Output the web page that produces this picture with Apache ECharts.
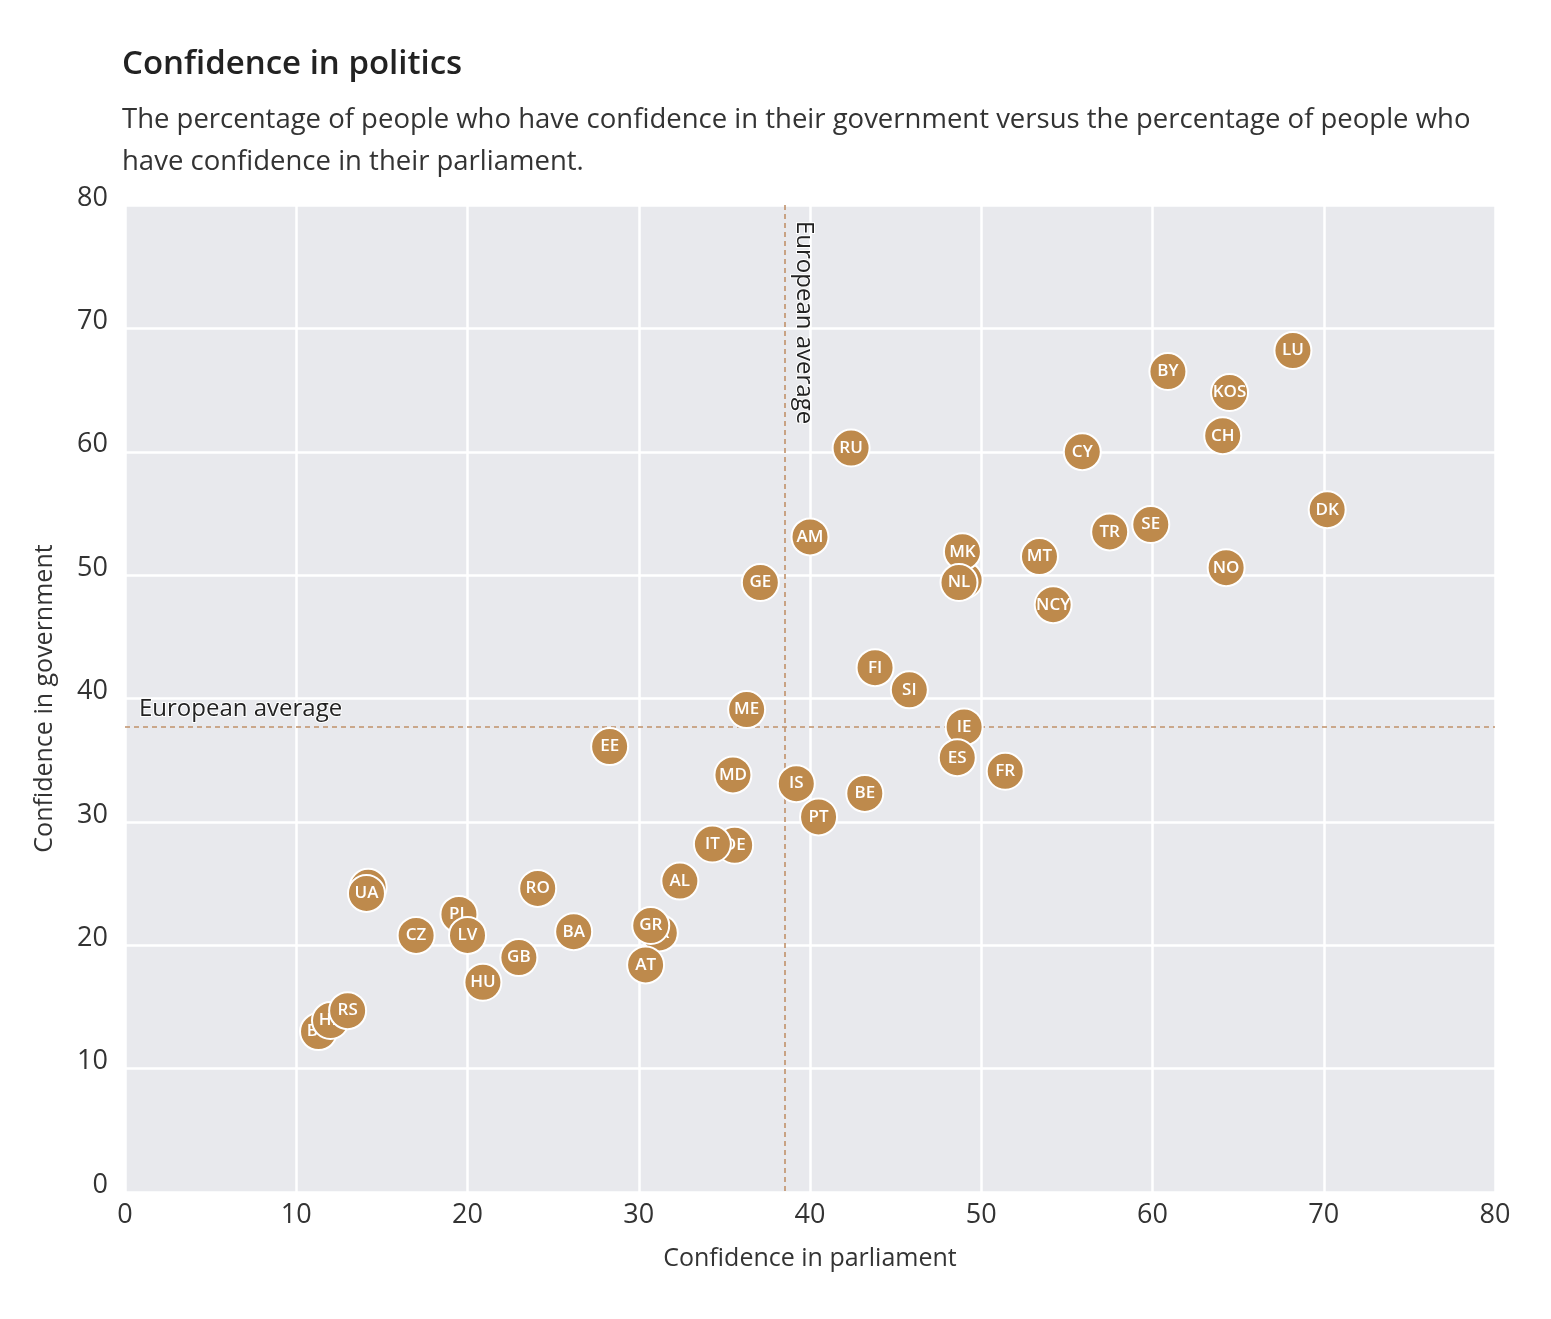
<!DOCTYPE html>
<html>
<head>
<meta charset="utf-8">
<script src="https://cdn.jsdelivr.net/npm/echarts@6/dist/echarts.min.js"></script>
<style>
html,body{margin:0;padding:0;background:#fff;}
#chart{width:1551px;height:1319px;}
</style>
</head>
<body>
<div id="chart"></div>
<script>
// Country codes, confidence in parliament (x) and confidence in government (y)
const countries  = ['LU','BY','KOS','CH','CY','RU','DK','SE','TR','MT','NO','MK','NL','NCY','AM','GE','FI','SI','ME','IE','ES','FR','EE','MD','IS','BE','PT','IT','AL','UA','RO','LV','CZ','BA','GR','GB','HU','AT','RS'];
const parliament = [68.2, 60.9, 64.5, 64.1, 55.9, 42.4, 70.2, 59.9, 57.5, 53.4, 64.3, 48.9, 48.7, 54.2, 40.0, 37.1, 43.8, 45.8, 36.3, 49.0, 48.6, 51.4, 28.3, 35.5, 39.2, 43.2, 40.5, 34.3, 32.4, 14.1, 24.1, 20.0, 17.0, 26.2, 30.7, 23.0, 20.9, 30.4, 13.0];
const government = [68.2, 66.5, 64.8, 61.3, 60.0, 60.3, 55.3, 54.1, 53.5, 51.5, 50.6, 51.9, 49.4, 47.6, 53.1, 49.4, 42.5, 40.7, 39.1, 37.7, 35.2, 34.1, 36.1, 33.8, 33.1, 32.3, 30.4, 28.2, 25.2, 24.2, 24.6, 20.8, 20.8, 21.1, 21.6, 19.0, 17.0, 18.4, 14.7];

// Points partly hidden behind others (drawn underneath)
const hiddenCountries  = ['BG','LT','PL','SK','DE','AZ'];
const hiddenParliament = [11.3, 14.2, 19.5, 31.2, 35.6, 49.0];
const hiddenGovernment = [13.0, 24.7, 22.5, 21.0, 28.1, 49.6];

// Point in between (partly hidden, partly covering)
const middleCountries  = ['HR'];
const middleParliament = [12.0];
const middleGovernment = [13.9];

// European averages
const avgParliament = 38.5;
const avgGovernment = 37.7;

// Axis ticks
const axisMin = 0, axisMax = 80, axisStep = 10;

function build(codes, xs, ys) {
  return codes.map((c, i) => [xs[i], ys[i], c]);
}

const FONT = 'Open Sans';
const dotStyle = {
  symbol: 'circle',
  symbolSize: 37,
  itemStyle: { color: '#be8a4c', borderColor: '#ffffff', borderWidth: 2, opacity: 1 },
  label: {
    show: true, position: 'inside',
    formatter: p => p.value[2],
    color: '#ffffff', fontFamily: FONT, fontSize: 17, fontWeight: 600
  },
  emphasis: { disabled: true }
};

const chart = echarts.init(document.getElementById('chart'));
chart.setOption({
  animation: false,
  backgroundColor: '#ffffff',
  title: {
    text: 'Confidence in politics',
    subtext: 'The percentage of people who have confidence in their government versus the percentage of people who\nhave confidence in their parliament.',
    left: 117, top: 40, itemGap: 14,
    textStyle: { fontFamily: FONT, fontSize: 33, fontWeight: 600, color: '#222', lineHeight: 40 },
    subtextStyle: { fontFamily: FONT, fontSize: 27.5, color: '#333', lineHeight: 42 }
  },
  grid: {
    left: 125, right: 56, top: 205, bottom: 127,
    show: true, backgroundColor: '#e8e9ed', borderWidth: 0
  },
  xAxis: {
    type: 'value', min: axisMin, max: axisMax, interval: axisStep,
    name: 'Confidence in parliament', nameLocation: 'middle', nameGap: 54,
    nameTextStyle: { fontFamily: FONT, fontSize: 25, color: '#333' },
    axisLine: { show: false }, axisTick: { show: false },
    axisLabel: { fontFamily: FONT, fontSize: 27, color: '#333', margin: 10 },
    splitLine: { show: true, lineStyle: { color: '#ffffff', width: 2.5 } }
  },
  yAxis: {
    type: 'value', min: axisMin, max: axisMax, interval: axisStep,
    name: 'Confidence in government', nameLocation: 'middle', nameGap: 68,
    nameTextStyle: { fontFamily: FONT, fontSize: 25, color: '#333' },
    axisLine: { show: false }, axisTick: { show: false },
    axisLabel: { fontFamily: FONT, fontSize: 27, color: '#333', margin: 17, verticalAlign: 'bottom', lineHeight: 14 },
    splitLine: { show: true, lineStyle: { color: '#ffffff', width: 2.5 } }
  },
  series: [
    Object.assign({ type: 'scatter', z: 3, data: build(hiddenCountries, hiddenParliament, hiddenGovernment),
      markLine: {
        silent: true, symbol: 'none',
        lineStyle: { color: '#c0916a', type: [5, 4], width: 1.6 },
        label: { fontFamily: FONT, fontSize: 24, color: '#222', textBorderColor: '#fff', textBorderWidth: 2 },
        data: [
          [{ coord: [axisMin, avgGovernment], label: { show: true, position: 'insideStartTop', formatter: 'European average', distance: [14, 6] } },
           { coord: [axisMax, avgGovernment] }],
          [{ coord: [avgParliament, axisMax], label: { show: true, position: 'insideStartTop', formatter: 'European average', distance: [16, 8] } },
           { coord: [avgParliament, axisMin] }]
        ]
      }
    }, dotStyle),
    Object.assign({ type: 'scatter', z: 4, data: build(middleCountries, middleParliament, middleGovernment) }, dotStyle),
    Object.assign({ type: 'scatter', z: 5, data: build(countries, parliament, government) }, dotStyle)
  ]
});
</script>
</body>
</html>
